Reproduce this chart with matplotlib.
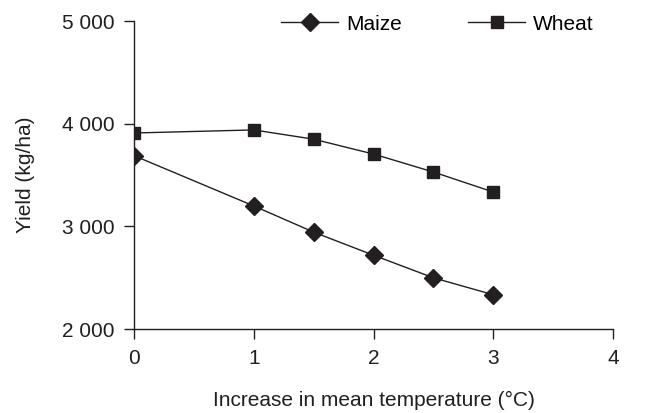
import matplotlib
matplotlib.use("Agg")
import matplotlib.pyplot as plt
from matplotlib.ticker import FuncFormatter

plt.rcParams['font.family'] = ['Liberation Sans', 'DejaVu Sans']

# Données
temp = [0, 1, 1.5, 2, 2.5, 3]
maize = [3690, 3200, 2945, 2720, 2500, 2335]
wheat = [3910, 3940, 3850, 3705, 3530, 3335]

fig = plt.figure(figsize=(6.53, 4.13), dpi=100)
ax = fig.add_axes([0.205, 0.203, 0.734, 0.746])

ax.plot(temp, maize, color='#231f20', lw=1, marker='D', ms=9, mfc='#231f20',
        mec='#231f20', label='Maize')
ax.plot(temp, wheat, color='#231f20', lw=1, marker='s', ms=9, mfc='#231f20',
        mec='#231f20', label='Wheat')

ax.set_xlim(0, 4)
ax.set_ylim(2000, 5000)
ax.set_xticks([0, 1, 2, 3, 4])
ax.set_yticks([2000, 3000, 4000, 5000])
ax.yaxis.set_major_formatter(FuncFormatter(lambda v, p: f"{int(v):,}".replace(',', ' ')))

for s in ['top', 'right']:
    ax.spines[s].set_visible(False)
for s in ['left', 'bottom']:
    ax.spines[s].set_color('#231f20')
    ax.spines[s].set_linewidth(1)
ax.tick_params(colors='#231f20', labelsize=15, length=7, width=1, pad=7)

ax.set_xlabel('Increase in mean temperature (°C)', fontsize=15, color='#231f20', labelpad=17)
ax.set_ylabel('Yield (kg/ha)', fontsize=15, color='#231f20', labelpad=19)

ax.legend(loc='center left', bbox_to_anchor=(0.29, 0.99), ncol=2, frameon=False,
          fontsize=15, handlelength=2.75, columnspacing=3.2, handletextpad=0.35,
          borderaxespad=0)

fig.savefig('out.png', dpi=100)
